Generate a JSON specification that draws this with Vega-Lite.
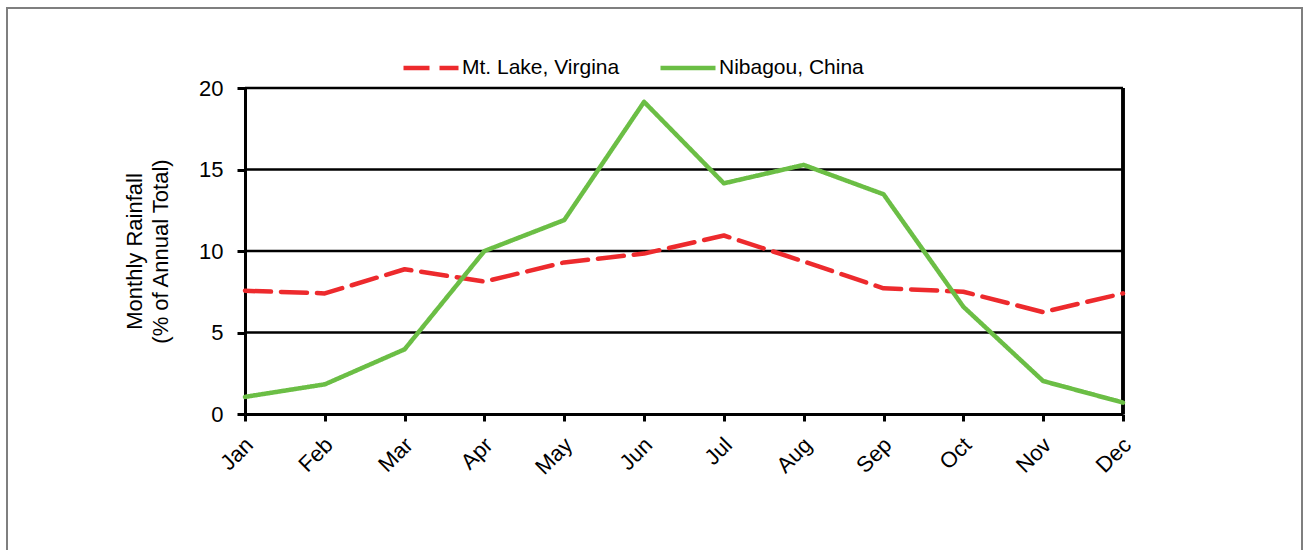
{
  "$schema": "https://vega.github.io/schema/vega-lite/v6.json",
  "autosize": "none",
  "padding": {"left": 7, "top": 8, "right": 3, "bottom": 0},
  "width": 1295,
  "height": 560,
  "background": "white",
  "config": {
    "view": {"stroke": "#7f7f7f", "strokeWidth": 2},
    "font": "Liberation Sans"
  },
  "datasets": {
    "rain": [
      {"month": "Jan", "site": "Mt. Lake, Virgina", "pct": 7.56},
      {"month": "Feb", "site": "Mt. Lake, Virgina", "pct": 7.4},
      {"month": "Mar", "site": "Mt. Lake, Virgina", "pct": 8.88},
      {"month": "Apr", "site": "Mt. Lake, Virgina", "pct": 8.12},
      {"month": "May", "site": "Mt. Lake, Virgina", "pct": 9.3},
      {"month": "Jun", "site": "Mt. Lake, Virgina", "pct": 9.84},
      {"month": "Jul", "site": "Mt. Lake, Virgina", "pct": 10.95},
      {"month": "Aug", "site": "Mt. Lake, Virgina", "pct": 9.36},
      {"month": "Sep", "site": "Mt. Lake, Virgina", "pct": 7.71},
      {"month": "Oct", "site": "Mt. Lake, Virgina", "pct": 7.5},
      {"month": "Nov", "site": "Mt. Lake, Virgina", "pct": 6.25},
      {"month": "Dec", "site": "Mt. Lake, Virgina", "pct": 7.4},
      {"month": "Jan", "site": "Nibagou, China", "pct": 1.05},
      {"month": "Feb", "site": "Nibagou, China", "pct": 1.82},
      {"month": "Mar", "site": "Nibagou, China", "pct": 3.97},
      {"month": "Apr", "site": "Nibagou, China", "pct": 10.0},
      {"month": "May", "site": "Nibagou, China", "pct": 11.9},
      {"month": "Jun", "site": "Nibagou, China", "pct": 19.15},
      {"month": "Jul", "site": "Nibagou, China", "pct": 14.15},
      {"month": "Aug", "site": "Nibagou, China", "pct": 15.28},
      {"month": "Sep", "site": "Nibagou, China", "pct": 13.48},
      {"month": "Oct", "site": "Nibagou, China", "pct": 6.58},
      {"month": "Nov", "site": "Nibagou, China", "pct": 2.02},
      {"month": "Dec", "site": "Nibagou, China", "pct": 0.7}
    ],
    "grid": [
      {"level": 5}, {"level": 10}, {"level": 15}, {"level": 20}
    ]
  },
  "layer": [
    {
      "data": {"name": "grid"},
      "mark": {"type": "rule", "color": "black", "strokeWidth": 2.5},
      "encoding": {
        "x": {"datum": "Jan", "type": "ordinal"},
        "x2": {"datum": "Dec"},
        "y": {"field": "level", "type": "quantitative"}
      }
    },
    {
      "data": {"name": "grid"},
      "mark": {"type": "rule", "color": "black", "strokeWidth": 3},
      "encoding": {
        "x": {"datum": "Dec", "type": "ordinal"},
        "y": {"datum": 0, "type": "quantitative"},
        "y2": {"datum": 20}
      }
    },
    {
      "data": {"name": "rain"},
      "mark": {"type": "line", "strokeWidth": 4.5, "strokeCap": "round", "strokeJoin": "round"},
      "encoding": {
        "x": {
          "field": "month",
          "type": "ordinal",
          "scale": {
            "type": "point",
            "domain": ["Jan", "Feb", "Mar", "Apr", "May", "Jun", "Jul", "Aug", "Sep", "Oct", "Nov", "Dec"],
            "range": [238, 1116],
            "padding": 0
          },
          "axis": {
            "title": null,
            "orient": "bottom",
            "offset": -154,
            "grid": false,
            "domainColor": "black",
            "domainWidth": 3,
            "tickColor": "black",
            "tickWidth": 3,
            "tickSize": 7,
            "labelAngle": -45,
            "labelFontSize": 22,
            "labelColor": "black",
            "labelPadding": 20,
            "labelOffset": 4
          }
        },
        "y": {
          "field": "pct",
          "type": "quantitative",
          "scale": {"domain": [0, 20], "range": [406, 80], "nice": false, "zero": true},
          "axis": {
            "title": ["Monthly Rainfall", "(% of Annual Total)"],
            "titleFontSize": 22,
            "titleFontWeight": "normal",
            "titleColor": "black",
            "titleLineHeight": 26,
            "titlePadding": 26,
            "offset": -238,
            "values": [0, 5, 10, 15, 20],
            "grid": false,
            "domainColor": "black",
            "domainWidth": 3,
            "tickColor": "black",
            "tickWidth": 3,
            "tickSize": 8,
            "labelFontSize": 22,
            "labelColor": "black",
            "labelPadding": 14
          }
        },
        "color": {
          "field": "site",
          "type": "nominal",
          "scale": {"domain": ["Mt. Lake, Virgina", "Nibagou, China"], "range": ["#ED2A2D", "#6BBE45"]},
          "legend": {
            "title": null,
            "orient": "none",
            "direction": "horizontal",
            "legendX": 394,
            "legendY": 30,
            "symbolType": "stroke",
            "symbolSize": 3025,
            "symbolStrokeWidth": 4.5,
            "labelFontSize": 21,
            "labelColor": "black",
            "labelOffset": 1,
            "columnPadding": 31
          }
        },
        "strokeDash": {
          "field": "site",
          "type": "nominal",
          "scale": {"domain": ["Mt. Lake, Virgina", "Nibagou, China"], "range": [[26, 10], [1, 0]]}
        }
      }
    }
  ]
}
